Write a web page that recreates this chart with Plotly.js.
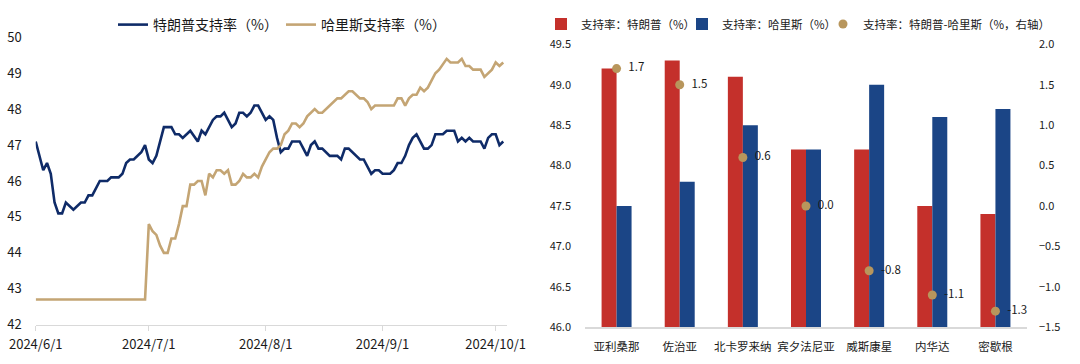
<!DOCTYPE html>
<html>
<head>
<meta charset="utf-8">
<script src="https://cdn.plot.ly/plotly-3.0.1.min.js"></script>
<style>html,body{margin:0;padding:0;background:#fff;}#chart{width:1080px;height:364px;}</style>
</head>
<body>
<div id="chart"></div>
<script>
// ---- Left panel: daily support rates ----
const trumpDates = ["2024-06-01","2024-06-03","2024-06-04","2024-06-05","2024-06-06","2024-06-07","2024-06-08","2024-06-09","2024-06-11","2024-06-13","2024-06-14","2024-06-15","2024-06-16","2024-06-18","2024-06-20","2024-06-21","2024-06-23","2024-06-24","2024-06-25","2024-06-26","2024-06-27","2024-06-29","2024-06-30",
"2024-07-01","2024-07-02","2024-07-03","2024-07-05","2024-07-07","2024-07-08","2024-07-09","2024-07-10","2024-07-12","2024-07-14","2024-07-15","2024-07-16","2024-07-18","2024-07-19","2024-07-20","2024-07-21","2024-07-22","2024-07-23","2024-07-24","2024-07-25","2024-07-26","2024-07-27","2024-07-28","2024-07-29","2024-07-30","2024-07-31",
"2024-08-01","2024-08-02","2024-08-03","2024-08-04","2024-08-05","2024-08-06","2024-08-07","2024-08-08","2024-08-10","2024-08-11","2024-08-12","2024-08-13","2024-08-14","2024-08-15","2024-08-16","2024-08-18","2024-08-20","2024-08-21","2024-08-22","2024-08-23","2024-08-25","2024-08-26","2024-08-27","2024-08-28","2024-08-29","2024-08-30","2024-08-31",
"2024-09-01","2024-09-03","2024-09-04","2024-09-05","2024-09-06","2024-09-07","2024-09-08","2024-09-09","2024-09-10","2024-09-11","2024-09-12","2024-09-13","2024-09-14","2024-09-15","2024-09-17","2024-09-18","2024-09-20","2024-09-21","2024-09-22","2024-09-23","2024-09-24","2024-09-25","2024-09-27","2024-09-28","2024-09-29","2024-09-30",
"2024-10-01","2024-10-02","2024-10-03"];
const trumpValues = [47.1,46.3,46.5,46.2,45.4,45.1,45.1,45.4,45.2,45.4,45.4,45.6,45.6,46.0,46.0,46.1,46.1,46.2,46.5,46.6,46.6,46.8,47.0,
46.6,46.5,46.7,47.5,47.5,47.3,47.3,47.2,47.4,47.1,47.4,47.3,47.7,47.8,47.8,47.9,47.7,47.5,47.6,47.9,47.9,47.8,47.9,48.1,48.1,47.9,
47.7,47.8,47.7,47.2,46.8,46.9,46.9,47.1,47.1,46.9,46.7,47.0,47.1,46.9,46.9,46.7,46.7,46.6,46.9,46.9,46.7,46.6,46.6,46.4,46.2,46.3,46.3,
46.2,46.2,46.3,46.5,46.5,46.7,47.0,47.2,47.3,47.1,46.9,46.9,47.0,47.3,47.3,47.4,47.4,47.1,47.2,47.1,47.2,47.1,47.1,46.9,47.2,47.3,
47.3,47.0,47.1];

const harrisDates = ["2024-06-01","2024-06-10","2024-06-20","2024-06-30",
"2024-07-01","2024-07-02","2024-07-03","2024-07-04","2024-07-05","2024-07-06","2024-07-07","2024-07-08","2024-07-09","2024-07-10","2024-07-11","2024-07-12","2024-07-13","2024-07-14","2024-07-15","2024-07-16","2024-07-17","2024-07-18","2024-07-19","2024-07-20","2024-07-21","2024-07-22","2024-07-23","2024-07-24","2024-07-25","2024-07-26","2024-07-27","2024-07-28","2024-07-29","2024-07-30","2024-07-31",
"2024-08-02","2024-08-03","2024-08-04","2024-08-05","2024-08-06","2024-08-07","2024-08-08","2024-08-09","2024-08-10","2024-08-11","2024-08-12","2024-08-14","2024-08-15","2024-08-16","2024-08-18","2024-08-20","2024-08-21","2024-08-22","2024-08-23","2024-08-24","2024-08-25","2024-08-26","2024-08-27","2024-08-28","2024-08-29","2024-08-30",
"2024-09-04","2024-09-05","2024-09-06","2024-09-07","2024-09-08","2024-09-09","2024-09-10","2024-09-11","2024-09-12","2024-09-13","2024-09-15","2024-09-16","2024-09-18","2024-09-19","2024-09-21","2024-09-22","2024-09-23","2024-09-24","2024-09-25","2024-09-27","2024-09-28","2024-09-29","2024-09-30",
"2024-10-01","2024-10-02","2024-10-03"];
const harrisValues = [42.7,42.7,42.7,42.7,
44.8,44.6,44.5,44.2,44.0,44.0,44.4,44.4,44.8,45.3,45.3,45.9,45.9,46.0,46.0,45.6,46.2,46.1,46.3,46.3,46.2,46.3,45.9,45.9,46.0,46.2,46.1,46.1,46.2,46.1,46.4,
46.8,46.9,46.9,47.0,47.3,47.4,47.6,47.6,47.5,47.6,47.8,48.0,47.9,47.9,48.1,48.3,48.3,48.4,48.5,48.5,48.4,48.3,48.3,48.2,48.0,48.1,
48.1,48.3,48.3,48.1,48.3,48.4,48.4,48.6,48.5,48.6,49.0,49.1,49.4,49.3,49.3,49.4,49.2,49.2,49.1,49.1,48.9,49.0,49.1,
49.3,49.2,49.3];

const monthTicks = ["2024-06-01","2024-07-01","2024-08-01","2024-09-01","2024-10-01"];
const monthTickText = ["2024/6/1","2024/7/1","2024/8/1","2024/9/1","2024/10/1"];

// ---- Right panel: swing states ----
const states = ["亚利桑那","佐治亚","北卡罗来纳","宾夕法尼亚","威斯康星","内华达","密歇根"];
const trumpState = [49.2,49.3,49.1,48.2,48.2,47.5,47.4];
const harrisState = [47.5,47.8,48.5,48.2,49.0,48.6,48.7];
const diffState = [1.7,1.5,0.6,0.0,-0.8,-1.1,-1.3];

const FONT = "'Noto Sans CJK SC', 'Noto Sans', sans-serif";
const TXT = "#1a1a1a";
const W = 1080, H = 364;
const px = v => v / W;
const py = v => (H - v) / H;
const leftTick = {family:FONT, size:13, color:TXT};
const rightTick = {family:FONT, size:11, color:TXT};

const traces = [
  {type:"scatter", mode:"lines", name:"特朗普支持率（%）", x:trumpDates, y:trumpValues,
   xaxis:"x", yaxis:"y", line:{color:"#0F2B68", width:2.6}, legend:"legend"},
  {type:"scatter", mode:"lines", name:"哈里斯支持率（%）", x:harrisDates, y:harrisValues,
   xaxis:"x", yaxis:"y", line:{color:"#C4A574", width:2.6}, legend:"legend2"},
  {type:"bar", name:"支持率：特朗普（%）", x:states, y:trumpState, xaxis:"x2", yaxis:"y2",
   marker:{color:"#C4302B"}, legend:"legend3"},
  {type:"bar", name:"支持率：哈里斯（%）", x:states, y:harrisState, xaxis:"x2", yaxis:"y2",
   marker:{color:"#1B4586"}, legend:"legend4"},
  {type:"scatter", mode:"markers+text", name:"支持率：特朗普-哈里斯（%，右轴）", x:states, y:diffState,
   xaxis:"x2", yaxis:"y3", marker:{color:"#B8965C", size:9},
   text:diffState.map(v => "\u00a0\u00a0" + v.toFixed(1)), textposition:"middle right",
   textfont:{family:FONT, size:11.5, color:TXT}, cliponaxis:false, legend:"legend5"}
];

const leftLegend = {orientation:"h", yanchor:"middle", xanchor:"left", y:py(25),
  font:{family:FONT, size:14, color:TXT}, bgcolor:"rgba(0,0,0,0)", borderwidth:0, itemwidth:30};
const rightLegend = {orientation:"h", yanchor:"middle", xanchor:"left", y:py(24),
  font:{family:FONT, size:11.5, color:TXT}, bgcolor:"rgba(0,0,0,0)", borderwidth:0, itemwidth:30};

const layout = {
  width:W, height:H,
  margin:{l:0, r:0, t:0, b:0},
  paper_bgcolor:"#ffffff", plot_bgcolor:"#ffffff",
  font:{family:FONT, size:13, color:TXT},
  showlegend:true,
  legend: Object.assign({}, leftLegend, {x:px(113)}),
  legend2: Object.assign({}, leftLegend, {x:px(281)}),
  legend3: Object.assign({}, rightLegend, {x:px(541)}),
  legend4: Object.assign({}, rightLegend, {x:px(682)}),
  legend5: Object.assign({}, rightLegend, {x:px(823)}),
  barmode:"group", bargap:0.525, bargroupgap:0,
  xaxis:{type:"date", domain:[px(35.7), px(507)], range:["2024-06-01","2024-10-04"], anchor:"y",
    tickmode:"array", tickvals:monthTicks, ticktext:monthTickText, tickangle:0,
    showline:true, linecolor:"#D9D9D9", linewidth:1.5, ticks:"outside", ticklen:5, tickcolor:"#D9D9D9", tickwidth:1,
    showgrid:false, zeroline:false, tickfont:leftTick, ticklabelstandoff:2},
  yaxis:{domain:[py(324.7), py(37.3)], range:[42,50], dtick:1, anchor:"x",
    showgrid:false, zeroline:false, showline:false, ticks:"", tickfont:leftTick, ticklabelstandoff:13},
  xaxis2:{type:"category", domain:[px(585), px(1027)], anchor:"y2", tickangle:0,
    showline:true, linecolor:"#D9D9D9", linewidth:1.5, ticks:"", showgrid:false, zeroline:false,
    tickfont:{family:FONT, size:11.5, color:TXT}, ticklabelstandoff:8},
  yaxis2:{domain:[py(327.3), py(44.3)], range:[46,49.5], dtick:0.5, tickformat:".1f", anchor:"x2",
    showgrid:false, zeroline:false, showline:false, ticks:"", tickfont:rightTick, ticklabelstandoff:13},
  yaxis3:{overlaying:"y2", side:"right", anchor:"x2", range:[-1.5,2.0], dtick:0.5, tickformat:".1f",
    showgrid:false, zeroline:false, showline:false, ticks:"", tickfont:rightTick, ticklabelstandoff:11}
};

Plotly.newPlot("chart", traces, layout, {displayModeBar:false, staticPlot:true});
</script>
</body>
</html>
